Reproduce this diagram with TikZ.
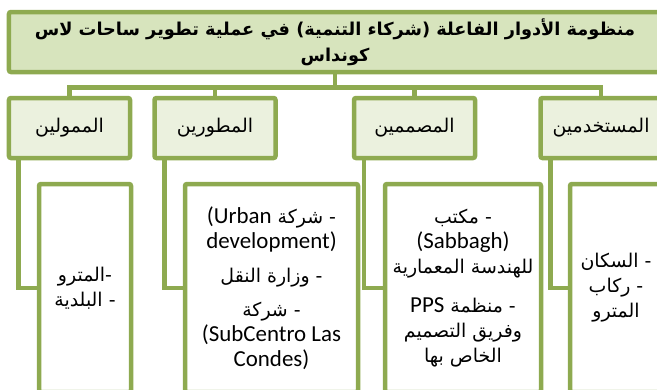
\documentclass[tikz,border=0pt]{standalone}
\usepackage{fontspec}
\newfontfamily\arabicfont[Script=Arabic]{DejaVu Sans}
\newfontfamily\latinfont{Carlito}
\TeXXeTstate=1
\usetikzlibrary{positioning}

\definecolor{rimgreen}{HTML}{8EAA50}
\definecolor{titlefill}{HTML}{D7E4BD}
\definecolor{rolefill}{HTML}{EBF1DE}

\newcommand\rl[1]{\beginR#1\endR}
\newcommand\lat[1]{{\latinfont\fontsize{23}{25}\selectfont #1}}

\begin{document}
\begin{tikzpicture}[x=1bp, y=-1bp,
    box/.style={draw=rimgreen, line width=4.5bp, rounded corners=2bp, align=center, inner sep=0pt},
    titlebox/.style={box, fill=titlefill, minimum width=652bp, minimum height=60bp,
        font=\arabicfont\bfseries\fontsize{17.8}{26}\selectfont},
    rolebox/.style={box, fill=rolefill, minimum width=121bp, minimum height=60bp,
        font=\arabicfont\fontsize{19}{24}\selectfont},
    listbox/.style={box, fill=white, minimum height=208bp,
        font=\arabicfont\fontsize{19}{25}\selectfont},
    link/.style={draw=rimgreen, line width=4.5bp}
]
    \useasboundingbox (0,0) rectangle (657,389);

    \node[titlebox] (title) at (335,42)
        {\rl{منظومة الأدوار الفاعلة (شركاء التنمية) في عملية تطوير ساحات لاس}\\\rl{كونداس}};

    \node[rolebox] (funders)    at (69.5,128)  {\rl{الممولين}};
    \node[rolebox] (developers) at (215,128)   {\rl{المطورين}};
    \node[rolebox] (designers)  at (414.5,128) {\rl{المصممين}};
    \node[rolebox] (users)      at (601,128)   {\rl{المستخدمين}};

    \node[listbox, minimum width=92bp] (funderlist) at (85,288)
        {\rl{-المترو}\\\rl{- البلدية}};
    \node[listbox, minimum width=173bp] (devlist) at (271.5,288)
        {\rl{- شركة \beginL\lat{(Urban}\endL}\\
         \lat{development)}\\[9bp]
         \rl{- وزارة النقل}\\[9bp]
         \rl{- شركة}\\
         \lat{(SubCentro Las}\\
         \lat{Condes)}};
    \node[listbox, minimum width=156bp] (designlist) at (463,288)
        {\rl{- مكتب}\\
         \lat{(Sabbagh)}\\
         \rl{للهندسة المعمارية}\\[14bp]
         \rl{- منظمة \beginL\lat{PPS}\endL}\\
         \rl{وفريق التصميم}\\
         \rl{الخاص بها}};
    \node[listbox, minimum width=92bp] (userlist) at (616,288)
        {\rl{- السكان}\\\rl{- ركاب}\\\rl{المترو}};

    % title to the four roles
    \draw[link] (title.south) -- ++(0,13) -| (funders.north);
    \draw[link] (title.south) -- ++(0,13) -| (developers.north);
    \draw[link] (title.south) -- ++(0,13) -| (designers.north);
    \draw[link] (title.south) -- ++(0,13) -| (users.north);

    % roles to their lists
    \draw[link] ([xshift=12bp]funders.south west) |- (funderlist.west);
    \draw[link] ([xshift=12bp]developers.south west) |- (devlist.west);
    \draw[link] ([xshift=12bp]designers.south west) |- (designlist.west);
    \draw[link] ([xshift=12bp]users.south west) |- (userlist.west);
\end{tikzpicture}
\end{document}
